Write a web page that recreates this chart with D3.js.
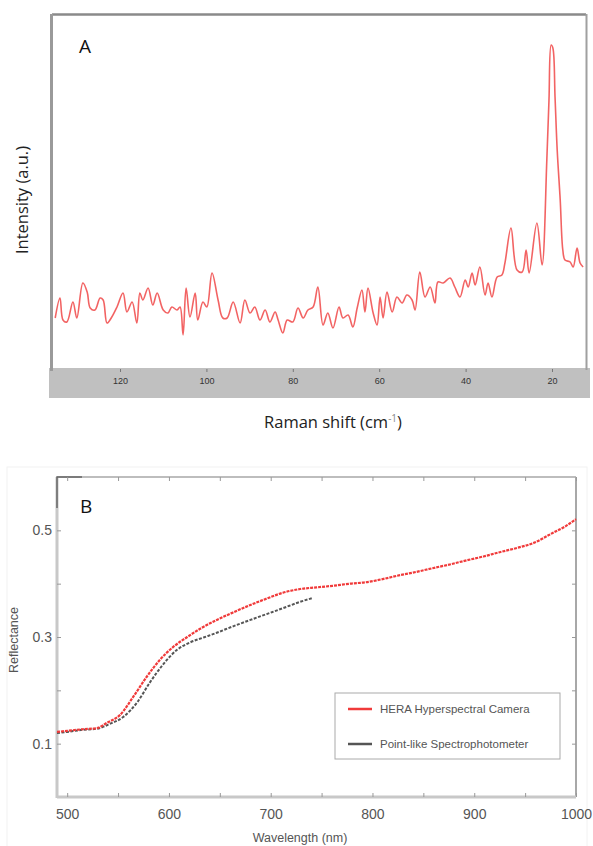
<!DOCTYPE html>
<html><head><meta charset="utf-8">
<script src="https://cdn.jsdelivr.net/npm/d3@7"></script>
<style>body{margin:0;background:#fff}svg{display:block}</style>
</head><body>
<script>
// ---------- Panel A: Raman spectrum ----------
const ramanShift = [135.0,133.9,133.2,132.3,130.9,130.0,128.6,127.6,126.9,125.8,124.6,123.9,123.0,121.9,120.7,119.3,118.4,117.2,116.1,115.4,114.7,113.5,112.4,111.4,110.0,108.9,108.0,106.8,106.1,105.4,104.7,103.8,102.6,102.0,100.8,99.9,98.7,97.3,96.2,95.2,93.8,92.2,91.1,89.9,88.8,87.6,86.4,85.3,84.1,83.4,82.3,81.3,80.0,78.8,77.6,76.5,75.3,74.2,73.0,71.9,70.7,69.3,68.4,67.2,66.1,65.1,64.0,63.3,62.6,61.4,60.5,59.8,59.1,58.2,57.0,55.9,54.7,53.6,52.4,51.7,50.6,49.4,48.2,47.1,46.4,45.2,43.6,42.5,41.3,40.1,39.4,38.5,37.8,36.7,35.5,34.8,33.9,32.7,31.6,30.9,29.5,28.1,26.9,26.0,25.3,23.5,22.3,21.2,20.7,20.2,19.8,19.3,18.8,18.1,17.5,17.0,15.8,15.1,14.2,13.5,12.8];
const ramanIntensity = [50,70,48,46,66,50,85,76,60,58,70,68,45,51,61,75,56,66,45,75,68,80,63,75,58,55,61,58,61,33,80,51,75,48,66,61,95,68,50,50,66,45,68,55,61,48,58,46,56,48,35,48,46,60,50,58,61,81,43,55,40,61,50,53,41,60,78,56,80,55,43,71,50,76,56,71,65,73,68,58,96,71,81,65,86,85,90,81,71,88,81,95,83,101,73,85,71,91,93,105,140,98,96,118,95,145,103,208,268,323,320,271,218,168,118,108,106,101,120,105,101];
const ramanTicks = [120,100,80,60,40,20];

// ---------- Panel B: Reflectance ----------
const heraWl = [490,500,515,529,539,552,565,578,591,604,618,632,647,663,680,696,712,729,745,761,778,795,811,827,843,859,876,893,909,925,942,958,977,990,1000];
const heraRefl = [0.122,0.124,0.127,0.129,0.139,0.154,0.188,0.225,0.257,0.281,0.300,0.317,0.332,0.346,0.360,0.372,0.383,0.390,0.393,0.396,0.400,0.403,0.409,0.416,0.422,0.429,0.436,0.444,0.451,0.459,0.467,0.476,0.495,0.508,0.521];
const specWl = [490,500,515,529,542,555,569,581,594,608,621,634,647,663,680,696,712,729,741];
const specRefl = [0.120,0.122,0.126,0.128,0.137,0.150,0.178,0.214,0.248,0.276,0.290,0.299,0.308,0.320,0.332,0.343,0.354,0.366,0.373];
const wlTicks = [500,600,700,800,900,1000];
const wlMinor = [550,650,750,850,950];
const reflTicks = [0.1,0.3,0.5];
const reflMinor = [0.2,0.4];
const legendLabels = ["HERA Hyperspectral Camera","Point-like Spectrophotometer"];

const svg = d3.select("body").append("svg").attr("width",593).attr("height",846);

// ===== Panel A =====
const A = {l:53, r:586, t:15, b:368};
const xA = d3.scaleLinear().domain([147.78-A.l/4.32, 147.78-A.r/4.32]).range([A.l, A.r]);
const yA = d3.scaleLinear().domain([0,352]).range([368,16]);

svg.append("rect").attr("x",49).attr("y",368).attr("width",541).attr("height",30).attr("fill","#c0c0c0");
svg.append("rect").attr("x",A.l).attr("y",A.t).attr("width",A.r-A.l).attr("height",A.b-A.t).attr("fill","#fff");
// frame
svg.append("line").attr("x1",A.l-1).attr("x2",A.r).attr("y1",A.t-0.5).attr("y2",A.t-0.5).attr("stroke","#8a8a8a").attr("stroke-width",2.5);
svg.append("line").attr("x1",A.l-1.5).attr("x2",A.l-1.5).attr("y1",A.t-1).attr("y2",371).attr("stroke","#9a9a9a").attr("stroke-width",3);
svg.append("line").attr("x1",A.r+0.5).attr("x2",A.r+0.5).attr("y1",A.t-1).attr("y2",370).attr("stroke","#a0a0a0").attr("stroke-width",2);

const axA = svg.append("g").attr("transform",`translate(0,${A.b})`)
  .call(d3.axisBottom(xA).tickValues(ramanTicks).tickSize(3).tickPadding(7).tickFormat(d3.format("d")));
axA.select(".domain").remove();
axA.selectAll(".tick line").attr("stroke","#777").attr("transform","translate(0,1)");
axA.selectAll(".tick text").attr("fill","#333").attr("font-family","Liberation Sans, Arial, sans-serif").attr("font-size",9);

svg.append("path").datum(ramanShift.map((s,i)=>[s,ramanIntensity[i]]))
  .attr("fill","none").attr("stroke","#f04848").attr("stroke-opacity",0.85).attr("stroke-width",1.6)
  .attr("stroke-linejoin","round")
  .attr("d",d3.line().x(d=>xA(d[0])).y(d=>yA(d[1])).curve(d3.curveCatmullRom.alpha(0.5)));

svg.append("text").attr("x",79).attr("y",53).text("A").attr("font-family","Open Sans, sans-serif").attr("font-size",19).attr("fill","#111");
svg.append("text").attr("transform","translate(28,200) rotate(-90)").attr("text-anchor","middle")
  .attr("font-family","Open Sans, sans-serif").attr("font-size",16.5).attr("fill","#222").text("Intensity (a.u.)");
const xt = svg.append("text").attr("x",333).attr("y",428).attr("text-anchor","middle")
  .attr("font-family","Open Sans, sans-serif").attr("font-size",16.5).attr("fill","#222");
xt.append("tspan").text("Raman shift (cm");
xt.append("tspan").attr("dy",-6).attr("font-size",10).attr("fill","#888").text("-1");
xt.append("tspan").attr("dy",6).text(")");

// ===== Panel B =====
const B = {l:57, r:576, t:477, b:797};
const xB = d3.scaleLinear().domain([490,1000]).range([B.l,B.r]);
const yB = d3.scaleLinear().domain([0,0.6]).range([B.b,B.t]);

svg.append("rect").attr("x",7).attr("y",467).attr("width",580).attr("height",385).attr("fill","none").attr("stroke","#f2f2f2");

const gB = svg.append("g");
gB.append("line").attr("x1",B.l).attr("x2",B.r).attr("y1",B.t).attr("y2",B.t).attr("stroke","#bdbdbd").attr("stroke-width",2);
gB.append("line").attr("x1",B.r).attr("x2",B.r).attr("y1",B.t).attr("y2",B.b).attr("stroke","#a8a8a8").attr("stroke-width",2);
gB.append("line").attr("x1",B.l).attr("x2",B.r).attr("y1",B.b).attr("y2",B.b).attr("stroke","#c8c8c8").attr("stroke-width",3);
gB.append("line").attr("x1",B.l).attr("x2",B.l).attr("y1",B.t).attr("y2",B.b+1).attr("stroke","#c8c8c8").attr("stroke-width",3);
gB.append("path").attr("d",`M${B.l},${B.t+31}V${B.t}H${B.l+25}`).attr("fill","none").attr("stroke","#666").attr("stroke-width",1.5);

const fontB = "Liberation Sans, Arial, sans-serif";
const bx = svg.append("g").attr("transform",`translate(0,${B.b})`)
  .call(d3.axisBottom(xB).tickValues(wlTicks).tickSize(-4).tickPadding(12).tickFormat(d3.format("d")));
bx.select(".domain").remove();
bx.selectAll(".tick line").attr("stroke","#999");
bx.selectAll(".tick text").attr("fill","#555").attr("font-family",fontB).attr("font-size",14);
const bxm = svg.append("g").attr("transform",`translate(0,${B.b})`)
  .call(d3.axisBottom(xB).tickValues(wlMinor).tickSize(-4).tickFormat(""));
bxm.select(".domain").remove(); bxm.selectAll(".tick line").attr("stroke","#999");
const bxt = svg.append("g").attr("transform",`translate(0,${B.t})`)
  .call(d3.axisTop(xB).tickValues(wlTicks.concat(wlMinor)).tickSize(-4).tickFormat(""));
bxt.select(".domain").remove(); bxt.selectAll(".tick line").attr("stroke","#999");

const by = svg.append("g").attr("transform",`translate(${B.l},0)`)
  .call(d3.axisLeft(yB).tickValues(reflTicks).tickSize(-4).tickPadding(5).tickFormat(d3.format(".1f")));
by.select(".domain").remove();
by.selectAll(".tick line").attr("stroke","#999");
by.selectAll(".tick text").attr("fill","#555").attr("font-family",fontB).attr("font-size",14);
const bym = svg.append("g").attr("transform",`translate(${B.l},0)`)
  .call(d3.axisLeft(yB).tickValues(reflMinor).tickSize(-4).tickFormat(""));
bym.select(".domain").remove(); bym.selectAll(".tick line").attr("stroke","#999");
const byr = svg.append("g").attr("transform",`translate(${B.r},0)`)
  .call(d3.axisRight(yB).tickValues(reflTicks.concat(reflMinor)).tickSize(-4).tickFormat(""));
byr.select(".domain").remove(); byr.selectAll(".tick line").attr("stroke","#999");

const lineB = d3.line().x(d=>xB(d[0])).y(d=>yB(d[1])).curve(d3.curveMonotoneX);
svg.append("path").datum(specWl.map((w,i)=>[w,specRefl[i]]))
  .attr("fill","none").attr("stroke","#555").attr("stroke-width",2).attr("stroke-dasharray","3,1.5").attr("d",lineB);
svg.append("path").datum(heraWl.map((w,i)=>[w,heraRefl[i]]))
  .attr("fill","none").attr("stroke","#f03a3a").attr("stroke-width",2.2).attr("stroke-dasharray","3,1").attr("d",lineB);

svg.append("text").attr("x",80).attr("y",513).text("B").attr("font-family","Open Sans, sans-serif").attr("font-size",19).attr("fill","#111");
svg.append("text").attr("transform","translate(18,640) rotate(-90)").attr("text-anchor","middle")
  .attr("font-family",fontB).attr("font-size",12.5).attr("fill","#555").text("Reflectance");
svg.append("text").attr("x",300).attr("y",842).attr("text-anchor","middle")
  .attr("font-family",fontB).attr("font-size",12.5).attr("fill","#555").text("Wavelength (nm)");

const lg = svg.append("g");
lg.append("rect").attr("x",335).attr("y",693).attr("width",225).attr("height",66).attr("fill","#fff").attr("stroke","#aaa").attr("stroke-width",1);
const legColors = ["#f03a3a","#555"];
legendLabels.forEach((t,i)=>{
  const y = 709 + i*35;
  lg.append("line").attr("x1",348).attr("x2",372).attr("y1",y).attr("y2",y).attr("stroke",legColors[i]).attr("stroke-width",2.5);
  lg.append("text").attr("x",380).attr("y",y+4).text(t).attr("font-family",fontB).attr("font-size",11.5).attr("fill","#555");
});
</script>
</body></html>
